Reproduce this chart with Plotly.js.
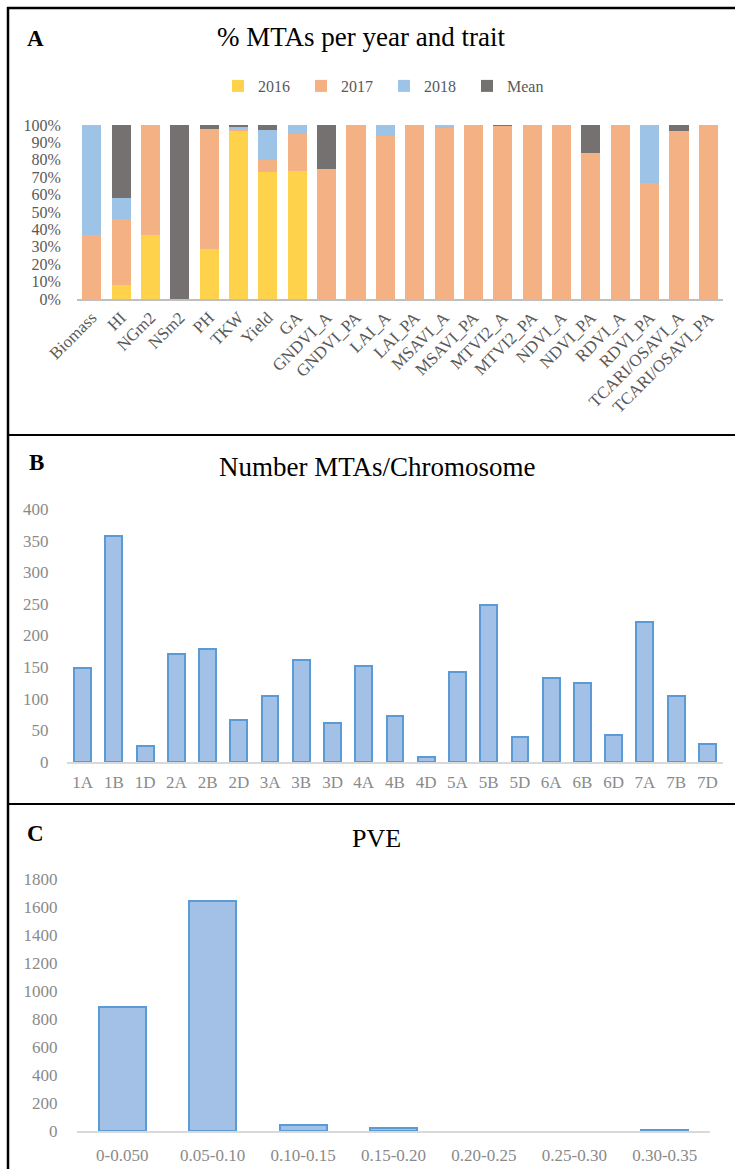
<!DOCTYPE html>
<html><head><meta charset="utf-8">
<script src="https://cdn.plot.ly/plotly-3.0.1.min.js"></script>
<style>html,body{margin:0;padding:0;background:#fff}</style>
</head><body><div id="chart" style="width:735px;height:1169px"></div>
<script>
const traits = ["Biomass","HI","NGm2","NSm2","PH","TKW","Yield","GA","GNDVI_A","GNDVI_PA","LAI_A","LAI_PA","MSAVI_A","MSAVI_PA","MTVI2_A","MTVI2_PA","NDVI_A","NDVI_PA","RDVI_A","RDVI_PA","TCARI/OSAVI_A","TCARI/OSAVI_PA"];
const pct2016 = [0, 8.3, 36.5, 0, 29, 96.5, 73, 73.7, 0, 0, 0, 0, 0, 0, 0, 0, 0, 0, 0, 0, 0, 0];
const pct2017 = [36.5, 37.5, 63.5, 0, 68.7, 1.2, 7, 21.1, 74.8, 100, 93.7, 100, 98.5, 100, 99.4, 100, 100, 83.7, 100, 66.5, 96.6, 100];
const pct2018 = [63.5, 12.5, 0, 0, 0, 1.2, 17, 5.2, 0, 0, 6.3, 0, 1.5, 0, 0, 0, 0, 0, 0, 33.5, 0, 0];
const pctMean = [0, 41.7, 0, 100, 2.3, 1.1, 3, 0, 25.2, 0, 0, 0, 0, 0, 0.6, 0, 0, 16.3, 0, 0, 3.4, 0];

const chromosomes = ["1A","1B","1D","2A","2B","2D","3A","3B","3D","4A","4B","4D","5A","5B","5D","6A","6B","6D","7A","7B","7D"];
const mtaCounts = [148, 357, 26, 170, 179, 67, 105, 162, 62, 152, 73, 8, 143, 248, 40, 133, 125, 42, 221, 104, 28];

const pveClasses = ["0-0.050","0.05-0.10","0.10-0.15","0.15-0.20","0.20-0.25","0.25-0.30","0.30-0.35"];
const pveCounts = [885, 1645, 40, 18, null, null, 10];

const SERIF = "Liberation Serif, Times New Roman, serif";
const W = 735, H = 1169;
const px = v => v / W;
const py = v => 1 - v / H;

const colA = {"2016":"#FFD24B","2017":"#F4B183","2018":"#9DC3E6","Mean":"#767171"};
const seriesA = [["2016", pct2016], ["2017", pct2017], ["2018", pct2018], ["Mean", pctMean]];

const data = seriesA.map(([name, vals]) => ({
  type: "bar", name: name, x: traits, y: vals, xaxis: "x", yaxis: "y",
  width: 0.65, marker: {color: colA[name], line: {width: 0}},
  hoverinfo: "x+y+name"
}));
data.push({
  type: "bar", x: chromosomes, y: mtaCounts, xaxis: "x2", yaxis: "y2", showlegend: false,
  width: 0.54, marker: {color: "#A3C1E7", line: {color: "#5B9BD5", width: 2}}
});
data.push({
  type: "bar", x: pveClasses, y: pveCounts, xaxis: "x3", yaxis: "y3", showlegend: false,
  width: 0.52, marker: {color: "#A3C1E7", line: {color: "#5B9BD5", width: 2}}
});

const tickFontA = {family: SERIF, size: 16, color: "#595959"};
const tickFontAx = {family: SERIF, size: 17, color: "#595959"};
const tickFontB = {family: SERIF, size: 17, color: "#8a8a8a"};

const layout = {
  width: W, height: H,
  margin: {l: 0, r: 0, t: 0, b: 0},
  paper_bgcolor: "#fff", plot_bgcolor: "#fff",
  barmode: "stack",
  font: {family: SERIF, color: "#595959"},
  showlegend: true,
  legend: {orientation: "h", x: px(384), y: py(86), xanchor: "center", yanchor: "middle",
    font: {family: SERIF, size: 16, color: "#595959"}, itemwidth: 30, traceorder: "normal",
    entrywidth: 38, entrywidthmode: "pixels", bgcolor: "rgba(0,0,0,0)"},
  xaxis: {domain: [px(77), px(723)], anchor: "y", type: "category", tickangle: -45,
    tickfont: tickFontAx, showline: true, linecolor: "#BFBFBF", linewidth: 2,
    showgrid: false, zeroline: false, ticks: "", fixedrange: true},
  yaxis: {domain: [py(299), py(125)], anchor: "x", range: [0, 100], dtick: 10, ticksuffix: "%",
    tickfont: tickFontA, showgrid: false, zeroline: false, showline: false,
    ticks: "outside", ticklen: 12, tickcolor: "rgba(0,0,0,0)", fixedrange: true},
  xaxis2: {domain: [px(67), px(723)], anchor: "y2", type: "category",
    tickfont: tickFontB, showline: true, linecolor: "#D9D9D9", linewidth: 1.5,
    showgrid: false, zeroline: false, ticks: "outside", ticklen: 4, tickcolor: "rgba(0,0,0,0)"},
  yaxis2: {domain: [py(762), py(509)], anchor: "x2", range: [0, 400], dtick: 50,
    tickfont: tickFontB, showgrid: false, zeroline: false, showline: false,
    ticks: "outside", ticklen: 14, tickcolor: "rgba(0,0,0,0)"},
  xaxis3: {domain: [px(77), px(710)], anchor: "y3", type: "category",
    tickfont: tickFontB, showline: true, linecolor: "#D9D9D9", linewidth: 1.5,
    showgrid: false, zeroline: false, ticks: "outside", ticklen: 8, tickcolor: "rgba(0,0,0,0)"},
  yaxis3: {domain: [py(1131), py(879)], anchor: "x3", range: [0, 1800], dtick: 200,
    tickfont: tickFontB, showgrid: false, zeroline: false, showline: false,
    ticks: "outside", ticklen: 15, tickcolor: "rgba(0,0,0,0)"},
  annotations: [
    {text: "% MTAs per year and trait", x: px(361), y: py(37), xref: "paper", yref: "paper",
      showarrow: false, xanchor: "center", yanchor: "middle", font: {family: SERIF, size: 27, color: "#000"}},
    {text: "Number MTAs/Chromosome", x: px(377), y: py(467), xref: "paper", yref: "paper",
      showarrow: false, xanchor: "center", yanchor: "middle", font: {family: SERIF, size: 27, color: "#000"}},
    {text: "PVE", x: px(376), y: py(838), xref: "paper", yref: "paper",
      showarrow: false, xanchor: "center", yanchor: "middle", font: {family: SERIF, size: 26, color: "#000"}},
    {text: "<b>A</b>", x: px(35), y: py(38), xref: "paper", yref: "paper",
      showarrow: false, xanchor: "center", yanchor: "middle", font: {family: SERIF, size: 23, color: "#000"}},
    {text: "<b>B</b>", x: px(36), y: py(462), xref: "paper", yref: "paper",
      showarrow: false, xanchor: "center", yanchor: "middle", font: {family: SERIF, size: 23, color: "#000"}},
    {text: "<b>C</b>", x: px(35), y: py(833), xref: "paper", yref: "paper",
      showarrow: false, xanchor: "center", yanchor: "middle", font: {family: SERIF, size: 23, color: "#000"}}
  ],
  shapes: [
    {type: "line", xref: "paper", yref: "paper", x0: px(8), x1: px(8), y0: 0, y1: py(7), line: {color: "#000", width: 2.5}},
    {type: "line", xref: "paper", yref: "paper", x0: px(7), x1: 1, y0: py(8), y1: py(8), line: {color: "#000", width: 2.5}},
    {type: "line", xref: "paper", yref: "paper", x0: px(7), x1: 1, y0: py(435), y1: py(435), line: {color: "#000", width: 2}},
    {type: "line", xref: "paper", yref: "paper", x0: px(7), x1: 1, y0: py(804), y1: py(804), line: {color: "#000", width: 2}}
  ]
};

Plotly.newPlot("chart", data, layout, {displayModeBar: false, staticPlot: true});
</script>
</body></html>
